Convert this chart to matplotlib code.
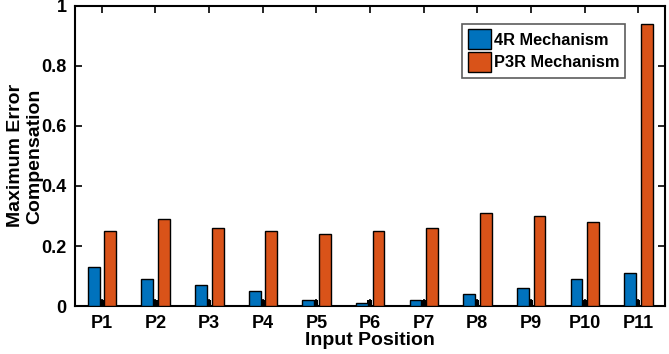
import matplotlib
matplotlib.use("Agg")
import matplotlib.pyplot as plt
import numpy as np

plt.rcParams['font.family'] = ['Liberation Sans', 'DejaVu Sans']
plt.rcParams['font.weight'] = 'bold'

categories = ["P1", "P2", "P3", "P4", "P5", "P6", "P7", "P8", "P9", "P10", "P11"]
mech_4r = [0.13, 0.09, 0.07, 0.05, 0.02, 0.01, 0.02, 0.04, 0.06, 0.09, 0.11]
mech_p3r = [0.25, 0.29, 0.26, 0.25, 0.24, 0.25, 0.26, 0.31, 0.30, 0.28, 0.94]
baseline_marks = [0.02] * 11
yticks = [0, 0.2, 0.4, 0.6, 0.8, 1]
ytick_labels = ["0", "0.2", "0.4", "0.6", "0.8", "1"]

fig = plt.figure(figsize=(6.69, 3.54), dpi=100)
ax = fig.add_axes([0.112, 0.135, 0.882, 0.849])

x = np.arange(1, len(categories) + 1)
ax.bar(x - 0.01, baseline_marks, width=0.1, color='black', zorder=2)
ax.bar(x - 0.15, mech_4r, width=0.22, color='#0072BD', edgecolor='black', linewidth=1.0, label='4R Mechanism', zorder=3)
ax.bar(x + 0.16, mech_p3r, width=0.22, color='#D95319', edgecolor='black', linewidth=1.0, label='P3R Mechanism', zorder=3)

ax.set_xlim(0.5, 11.5)
ax.set_ylim(0, 1)
ax.set_xticks(x)
ax.set_xticklabels(categories)
ax.set_yticks(yticks)
ax.set_yticklabels(ytick_labels)
ax.tick_params(direction='in', length=5, width=1.2, top=True, right=True, labelsize=13, pad=6)
for lab in ax.get_xticklabels() + ax.get_yticklabels():
    lab.set_fontweight('bold')
for s in ax.spines.values():
    s.set_linewidth(1.5)

ax.set_xlabel("Input Position", fontsize=14, fontweight='bold', labelpad=0)
ax.set_ylabel("Maximum Error\nCompensation", fontsize=14, fontweight='bold', linespacing=1.2)
ax.yaxis.set_label_coords(-0.053, 0.5)

leg = ax.legend(loc='upper right', bbox_to_anchor=(0.932, 0.94), borderaxespad=0, fontsize=11.8,
                frameon=True, fancybox=False, edgecolor='#333333', handlelength=1.4, handleheight=1.5,
                handletextpad=0.15, borderpad=0.35, labelspacing=0.15)
leg.get_frame().set_linewidth(1.2)
for t in leg.get_texts():
    t.set_fontweight('bold')

fig.savefig("out.png", dpi=100)
